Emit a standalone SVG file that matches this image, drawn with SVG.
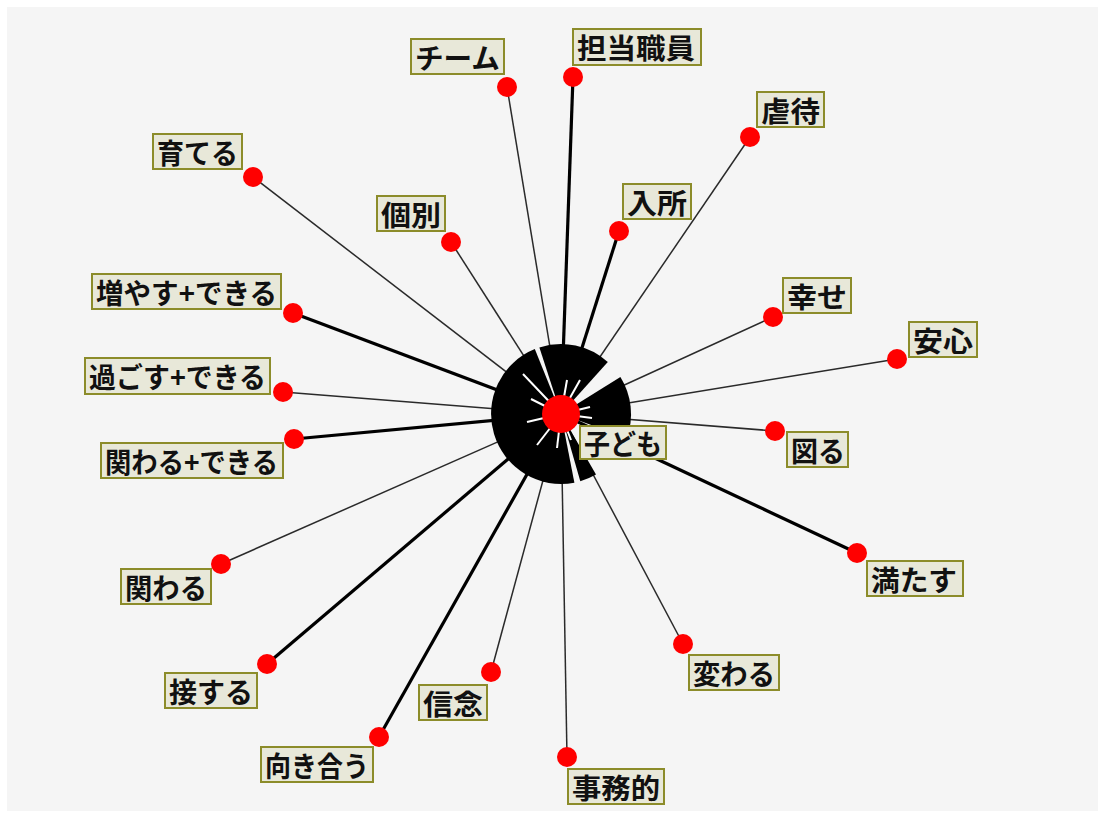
<svg xmlns="http://www.w3.org/2000/svg" width="1101" height="816" viewBox="0 0 1101 816">
<style>
.bg{fill:#f5f5f5}
.e1{stroke:#2a2a2a;stroke-width:1.5;fill:none}
.e3{stroke:#000;stroke-width:3.2;fill:none}
.dot{fill:#ff0000}
.box{fill:#e8e8d9;stroke:#8c8c2a;stroke-width:2}
.lbl{font-family:"Noto Sans CJK JP","Noto Sans",sans-serif;font-weight:700;font-size:28px;fill:#111;dominant-baseline:central}
.ray{stroke:#fff;stroke-width:2;fill:none}
</style>
<rect x="0" y="0" width="1101" height="816" fill="#ffffff"/>
<rect class="bg" x="7" y="7" width="1091" height="804"/>
<g id="connectors">
<line class="e1" x1="561" y1="414" x2="507" y2="87"/>
<line class="e3" x1="561" y1="414" x2="573" y2="77"/>
<line class="e1" x1="561" y1="414" x2="750" y2="137"/>
<line class="e3" x1="561" y1="414" x2="619" y2="231"/>
<line class="e1" x1="561" y1="414" x2="773" y2="317"/>
<line class="e1" x1="561" y1="414" x2="897" y2="359"/>
<line class="e1" x1="561" y1="414" x2="775" y2="431"/>
<line class="e3" x1="561" y1="414" x2="857" y2="553"/>
<line class="e1" x1="561" y1="414" x2="683" y2="644"/>
<line class="e1" x1="561" y1="414" x2="567" y2="757"/>
<line class="e1" x1="561" y1="414" x2="491" y2="672"/>
<line class="e3" x1="561" y1="414" x2="379" y2="737"/>
<line class="e3" x1="561" y1="414" x2="267" y2="664"/>
<line class="e1" x1="561" y1="414" x2="221" y2="564"/>
<line class="e3" x1="561" y1="414" x2="294" y2="439"/>
<line class="e1" x1="561" y1="414" x2="283" y2="392"/>
<line class="e3" x1="561" y1="414" x2="293" y2="313"/>
<line class="e1" x1="561" y1="414" x2="253" y2="177"/>
<line class="e1" x1="561" y1="414" x2="451" y2="242"/>
</g>
<g id="center">
<path fill="#000" d="M561,414 L620.4,376.9 A70,70 0 0 1 626.8,437.9 Z"/>
<path fill="#000" d="M561,414 L539.4,347.4 A70,70 0 0 1 607.8,362.0 Z"/>
<path fill="#000" d="M561,414 L574.4,482.7 A70,70 0 0 1 534.8,349.1 Z"/>
<path fill="#000" d="M561,414 L596,474.6 A70,70 0 0 1 580.3,481.3 Z"/>
<line class="ray" x1="561" y1="414" x2="523" y2="374"/>
<line class="ray" x1="561" y1="414" x2="531" y2="399"/>
<line class="ray" x1="561" y1="414" x2="527" y2="422"/>
<line class="ray" x1="561" y1="414" x2="537" y2="445"/>
<line class="ray" x1="561" y1="414" x2="557" y2="448"/>
<line class="ray" x1="561" y1="414" x2="571" y2="440"/>
<line class="ray" x1="561" y1="414" x2="567" y2="380"/>
<line class="ray" x1="561" y1="414" x2="580" y2="380"/>
<line class="ray" x1="561" y1="414" x2="590" y2="407"/>
<line class="ray" x1="561" y1="414" x2="592" y2="418"/>
<circle class="dot" cx="561" cy="414" r="19"/>
<rect class="box" x="580" y="426" width="86" height="33"/>
<text class="lbl" x="584" y="442.5" textLength="78" lengthAdjust="spacingAndGlyphs">子ども</text>
</g>
<g id="n1"><circle class="dot" cx="507" cy="87" r="10"/><rect class="box" x="411" y="39" width="93" height="35"/><text class="lbl" x="415" y="56.5" textLength="85" lengthAdjust="spacingAndGlyphs">チーム</text></g>
<g id="n2"><circle class="dot" cx="573" cy="77" r="10"/><rect class="box" x="573" y="29" width="128" height="36"/><text class="lbl" x="577" y="47" textLength="118" lengthAdjust="spacingAndGlyphs">担当職員</text></g>
<g id="n3"><circle class="dot" cx="750" cy="137" r="10"/><rect class="box" x="757" y="92" width="67" height="35"/><text class="lbl" x="761" y="109.5" textLength="59" lengthAdjust="spacingAndGlyphs">虐待</text></g>
<g id="n4"><circle class="dot" cx="619" cy="231" r="10"/><rect class="box" x="623" y="184" width="68" height="35"/><text class="lbl" x="627" y="201.5" textLength="60" lengthAdjust="spacingAndGlyphs">入所</text></g>
<g id="n5"><circle class="dot" cx="773" cy="317" r="10"/><rect class="box" x="783" y="278" width="68" height="35"/><text class="lbl" x="787" y="295.5" textLength="60" lengthAdjust="spacingAndGlyphs">幸せ</text></g>
<g id="n6"><circle class="dot" cx="897" cy="359" r="10"/><rect class="box" x="909" y="322" width="68" height="35"/><text class="lbl" x="913" y="339.5" textLength="60" lengthAdjust="spacingAndGlyphs">安心</text></g>
<g id="n7"><circle class="dot" cx="775" cy="431" r="10"/><rect class="box" x="787" y="432" width="61" height="35"/><text class="lbl" x="791" y="449.5" textLength="54" lengthAdjust="spacingAndGlyphs">図る</text></g>
<g id="n8"><circle class="dot" cx="857" cy="553" r="10"/><rect class="box" x="867" y="561" width="96" height="35"/><text class="lbl" x="871" y="578.5" textLength="86" lengthAdjust="spacingAndGlyphs">満たす</text></g>
<g id="n9"><circle class="dot" cx="683" cy="644" r="10"/><rect class="box" x="689" y="655" width="90" height="35"/><text class="lbl" x="693" y="672.5" textLength="82" lengthAdjust="spacingAndGlyphs">変わる</text></g>
<g id="n10"><circle class="dot" cx="567" cy="757" r="10"/><rect class="box" x="568" y="769" width="96" height="35"/><text class="lbl" x="572" y="786.5" textLength="88" lengthAdjust="spacingAndGlyphs">事務的</text></g>
<g id="n11"><circle class="dot" cx="491" cy="672" r="10"/><rect class="box" x="419" y="685" width="68" height="35"/><text class="lbl" x="423" y="702.5" textLength="60" lengthAdjust="spacingAndGlyphs">信念</text></g>
<g id="n12"><circle class="dot" cx="379" cy="737" r="10"/><rect class="box" x="261" y="747" width="112" height="35"/><text class="lbl" x="265" y="764.5" textLength="104" lengthAdjust="spacingAndGlyphs">向き合う</text></g>
<g id="n13"><circle class="dot" cx="267" cy="664" r="10"/><rect class="box" x="165" y="673" width="92" height="35"/><text class="lbl" x="169" y="690.5" textLength="84" lengthAdjust="spacingAndGlyphs">接する</text></g>
<g id="n14"><circle class="dot" cx="221" cy="564" r="10"/><rect class="box" x="121" y="569" width="90" height="35"/><text class="lbl" x="125" y="586.5" textLength="82" lengthAdjust="spacingAndGlyphs">関わる</text></g>
<g id="n15"><circle class="dot" cx="294" cy="439" r="10"/><rect class="box" x="101" y="443" width="182" height="35"/><text class="lbl" x="105" y="460.5" textLength="173" lengthAdjust="spacingAndGlyphs">関わる+できる</text></g>
<g id="n16"><circle class="dot" cx="283" cy="392" r="10"/><rect class="box" x="85" y="358" width="185" height="36"/><text class="lbl" x="89" y="376" textLength="177" lengthAdjust="spacingAndGlyphs">過ごす+できる</text></g>
<g id="n17"><circle class="dot" cx="293" cy="313" r="10"/><rect class="box" x="92" y="274" width="189" height="35"/><text class="lbl" x="96" y="291.5" textLength="181" lengthAdjust="spacingAndGlyphs">増やす+できる</text></g>
<g id="n18"><circle class="dot" cx="253" cy="177" r="10"/><rect class="box" x="153" y="134" width="89" height="35"/><text class="lbl" x="157" y="151.5" textLength="81" lengthAdjust="spacingAndGlyphs">育てる</text></g>
<g id="n19"><circle class="dot" cx="451" cy="242" r="10"/><rect class="box" x="377" y="196" width="68" height="35"/><text class="lbl" x="381" y="213.5" textLength="60" lengthAdjust="spacingAndGlyphs">個別</text></g>
</svg>
